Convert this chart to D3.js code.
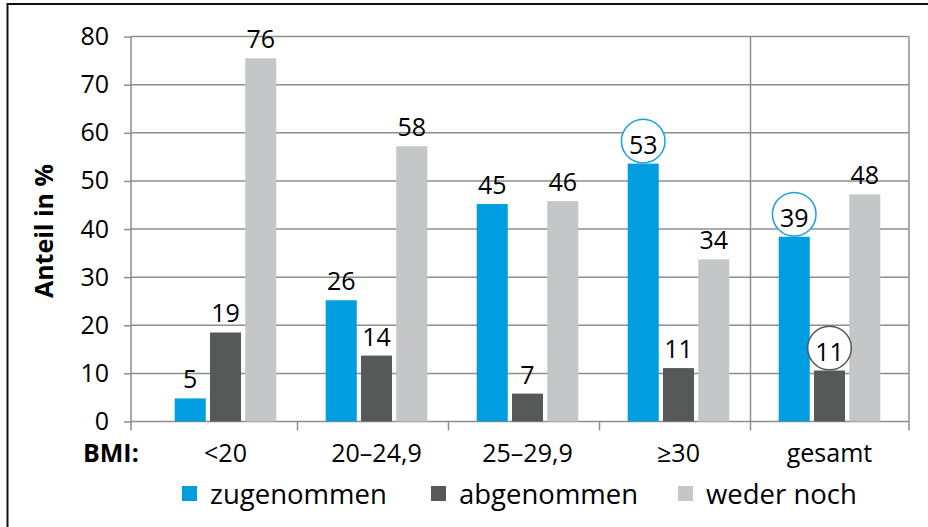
<!DOCTYPE html>
<html>
<head>
<meta charset="utf-8">
<script src="https://cdn.jsdelivr.net/npm/d3@7"></script>
<style>
  html, body { margin: 0; padding: 0; background: #fff; }
  svg { display: block; }
  text { font-family: "Open Sans", "Noto Sans", sans-serif; fill: #000; }
</style>
</head>
<body>
<svg id="chart" width="928" height="527"></svg>
<script>
// ---- data ----
const categories = ["<20", "20\u201324,9", "25\u201329,9", "\u226530", "gesamt"];
const seriesNames = ["zugenommen", "abgenommen", "weder noch"];
const zugenommen = [4.8, 25.2, 45.2, 53.6, 38.4];
const abgenommen = [18.5, 13.7, 5.8, 11.1, 10.6];
const wederNoch = [75.5, 57.2, 45.8, 33.7, 47.2];
const zugenommenLabels = ["5", "26", "45", "53", "39"];
const abgenommenLabels = ["19", "14", "7", "11", "11"];
const wederNochLabels = ["76", "58", "46", "34", "48"];
const circledLabels = [["zugenommen", "\u226530"], ["zugenommen", "gesamt"], ["abgenommen", "gesamt"]];
const yTicks = [0, 10, 20, 30, 40, 50, 60, 70, 80];
const yTitle = "Anteil in %";
const xTitle = "BMI:";

const colors = { "zugenommen": "#009ee0", "abgenommen": "#575858", "weder noch": "#c5c6c8" };
const circleColors = { "zugenommen": "#1aa0dd", "abgenommen": "#555555" };

const seriesValues = { "zugenommen": zugenommen, "abgenommen": abgenommen, "weder noch": wederNoch };
const seriesLabels = { "zugenommen": zugenommenLabels, "abgenommen": abgenommenLabels, "weder noch": wederNochLabels };

const svg = d3.select("#chart");
svg.append("rect").attr("width", 928).attr("height", 527).attr("fill", "#fff");

// outer frame
svg.append("rect").attr("x", 7.5).attr("y", 4).attr("width", 1000).attr("height", 1000)
  .attr("fill", "none").attr("stroke", "#111").attr("stroke-width", 2);

const plotLeft = 131, plotRight = 909;
const y = d3.scaleLinear().domain([0, 80]).range([421.5, 36.6]);
const x0 = d3.scaleBand().domain(categories).range([150, 905]).padding(0);
const x1 = d3.scaleBand().domain(seriesNames).range([24.7, 126.3]).paddingInner(0.12).paddingOuter(0);

// gridlines + y axis
const gridColor = "#8e8e8e";
const yAxis = d3.axisLeft(y).tickValues(yTicks).tickSize(7).tickPadding(15).tickFormat(d3.format("d"));
const gy = svg.append("g").attr("transform", `translate(${plotLeft},0)`).call(yAxis);
gy.select(".domain").remove();
gy.selectAll(".tick line").attr("stroke", gridColor).attr("stroke-width", 1.5);
gy.selectAll(".tick text").attr("font-size", 25).attr("fill", "#000")
  .style("font-family", "'Open Sans', sans-serif");
svg.append("g").selectAll("line").data(yTicks).join("line")
  .attr("x1", plotLeft).attr("x2", plotRight)
  .attr("y1", d => y(d)).attr("y2", d => y(d))
  .attr("stroke", gridColor).attr("stroke-width", 1.5);

// vertical lines: left axis, separator before "gesamt", right edge
const sepX = x0("gesamt") - 3.5;
[plotLeft, sepX, plotRight].forEach(xx => {
  svg.append("line").attr("x1", xx).attr("x2", xx).attr("y1", y(80)).attr("y2", y(0) + 9)
    .attr("stroke", gridColor).attr("stroke-width", 1.5);
});
// category boundary ticks
categories.slice(1, 4).forEach(c => {
  const xx = x0(c) - 3.5;
  svg.append("line").attr("x1", xx).attr("x2", xx).attr("y1", y(0)).attr("y2", y(0) + 9)
    .attr("stroke", gridColor).attr("stroke-width", 1.5);
});

// bars
const groups = svg.append("g").selectAll("g").data(categories).join("g")
  .attr("transform", c => `translate(${x0(c)},0)`);
groups.selectAll("rect").data((c, i) => seriesNames.map(s => ({ s, v: seriesValues[s][i] })))
  .join("rect")
  .attr("x", d => x1(d.s)).attr("width", x1.bandwidth())
  .attr("y", d => y(d.v)).attr("height", d => y(0) - y(d.v))
  .attr("fill", d => colors[d.s]);

// value labels
const isCircled = (s, c) => circledLabels.some(p => p[0] === s && p[1] === c);
groups.each(function (c, i) {
  const g = d3.select(this);
  seriesNames.forEach(s => {
    const v = seriesValues[s][i];
    const cx = x1(s) + x1.bandwidth() / 2;
    if (isCircled(s, c)) {
      g.append("circle").attr("cx", cx).attr("cy", y(v) - 22.5).attr("r", 21.8)
        .attr("fill", "#fff").attr("stroke", circleColors[s]).attr("stroke-width", 1.5);
    }
    g.append("text").attr("x", cx).attr("y", y(v) - 10)
      .attr("text-anchor", "middle").attr("font-size", 25)
      .text(seriesLabels[s][i]);
  });
});

// x-axis category labels
svg.append("g").selectAll("text").data(categories).join("text")
  .attr("x", c => x0(c) + x0.bandwidth() / 2).attr("y", 462)
  .attr("text-anchor", "middle").attr("font-size", 25)
  .text(c => c);
svg.append("text").attr("x", 83).attr("y", 462).attr("font-size", 25).attr("font-weight", "bold")
  .text(xTitle);

// y title
svg.append("text").attr("transform", `translate(53,${(y(0) + y(80)) / 2 + 2}) rotate(-90)`)
  .attr("text-anchor", "middle").attr("font-size", 25).attr("font-weight", "bold")
  .text(yTitle);

// legend
const legendX = [182, 431, 678];
const legend = svg.append("g").selectAll("g").data(seriesNames).join("g")
  .attr("transform", (s, i) => `translate(${legendX[i]},0)`);
legend.append("rect").attr("x", 0).attr("y", 486).attr("width", 15).attr("height", 15)
  .attr("fill", s => colors[s]);
legend.append("text").attr("x", 28).attr("y", 504).attr("font-size", 27.5).text(s => s);
</script>
</body>
</html>
